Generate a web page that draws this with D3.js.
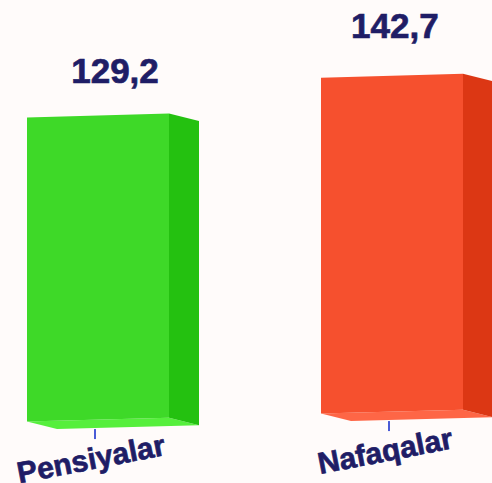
<!DOCTYPE html>
<html>
<head>
<meta charset="utf-8">
<script src="https://cdn.jsdelivr.net/npm/d3@7"></script>
<style>
	html, body { margin: 0; padding: 0; background: #fffbfa; }
	svg { display: block; }
	text { font-family: "Liberation Sans", Arial, sans-serif; font-weight: bold; fill: #1f1d66; stroke: #1f1d66; stroke-width: 0.7px; }
</style>
</head>
<body>
<svg id="chart" width="492" height="483"></svg>
<script>
var categories = ['Pensiyalar', 'Nafaqalar'];
var values = [129.2, 142.7];
var valueLabels = ['129,2', '142,7'];

var frontColors = ['#3ed928', '#f6502e'];
var sideColors = ['#24c110', '#dc3714'];
var bottomColors = ['#56ef3c', '#fe6646'];

var depthX = 30;
var depthY = 7.5;
var tilt = 0.0272;
var baseY = 421.5;

var svg = d3.select('#chart');

var x = d3.scaleBand()
	.domain(categories)
	.range([27, 463])
	.paddingInner(0.517)
	.paddingOuter(0);

var y = d3.scaleLinear()
	.domain([0, 150])
	.range([0, 353]);

var bw = x.bandwidth();
var x0 = x.range()[0];

// u: position along the axis, v: height in px, d: depth 0..1
function project(u, v, d) {
	return [u + d * depthX, baseY - (u - x0) * tilt - v + d * depthY];
}

function poly(pts) {
	return pts.map(function (p) { return p.join(','); }).join(' ');
}

var data = categories.map(function (c, i) {
	return {name: c, value: values[i], label: valueLabels[i], i: i};
});

var bars = svg.selectAll('g.bar')
	.data(data)
	.enter()
	.append('g')
	.attr('class', 'bar');

bars.append('polygon')
	.attr('fill', function (d) { return bottomColors[d.i]; })
	.attr('points', function (d) {
		var u = x(d.name);
		return poly([project(u, 0, 0), project(u + bw, 0, 0), project(u + bw, 0, 1), project(u, 0, 1)]);
	});

bars.append('polygon')
	.attr('fill', function (d) { return sideColors[d.i]; })
	.attr('points', function (d) {
		var u = x(d.name) + bw;
		var h = y(d.value);
		return poly([project(u, h, 0), project(u, h, 1), project(u, 0, 1), project(u, 0, 0)]);
	});

bars.append('polygon')
	.attr('fill', function (d) { return frontColors[d.i]; })
	.attr('points', function (d) {
		var u = x(d.name);
		var h = y(d.value);
		return poly([project(u, h, 0), project(u + bw, h, 0), project(u + bw, 0, 0), project(u, 0, 0)]);
	});

// value labels, shifted a bit with the perspective
bars.append('text')
	.attr('text-anchor', 'middle')
	.style('font-size', '35px')
	.attr('x', function (d) {
		var c = x(d.name) + bw / 2;
		return c + 17 - (c - x0 - bw / 2) * 0.048;
	})
	.attr('y', function (d) {
		var c = x(d.name) + bw / 2;
		return project(c, y(d.value), 0)[1] - 32.6 - (c - x0 - bw / 2) * 0.017;
	})
	.text(function (d) { return d.label; });

// ticks
bars.append('line')
	.attr('stroke', '#4a5bd6')
	.attr('stroke-width', 2)
	.attr('x1', function (d) { return x(d.name) + bw / 2 - 3; })
	.attr('x2', function (d) { return x(d.name) + bw / 2 - 3; })
	.attr('y1', function (d) { return project(x(d.name) + bw / 2, 0, 1)[1] + 2; })
	.attr('y2', function (d) { return project(x(d.name) + bw / 2, 0, 1)[1] + 12; });

// category labels
bars.append('text')
	.attr('text-anchor', 'middle')
	.style('font-size', '30px')
	.attr('transform', function (d) {
		var tx = x(d.name) + bw / 2 - 5;
		var ty = project(x(d.name) + bw / 2, 0, 1)[1] + 42;
		return 'translate(' + tx + ',' + ty + ') rotate(-11)';
	})
	.text(function (d) { return d.name; });
</script>
</body>
</html>
